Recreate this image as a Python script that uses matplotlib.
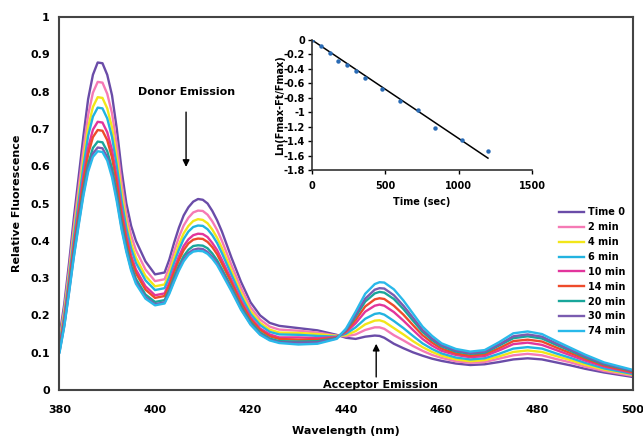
import numpy as np
import matplotlib
matplotlib.use("Agg")
import matplotlib.pyplot as plt

# --- data ---
wavelength = [380, 381, 382, 383, 384, 385, 386, 387, 388, 389, 390, 391, 392, 393, 394, 395, 396, 398, 400,
              402, 403, 404, 405, 406, 407, 408, 409, 410, 411, 412, 413, 414, 416, 418, 420, 422, 424, 426,
              430, 434, 438, 440, 442, 444, 446, 447, 448, 450, 452, 454, 456, 458, 460,
              463, 466, 469, 472, 475, 478, 481, 484, 487, 490, 494, 500]

t0 = [0.145, 0.230, 0.340, 0.460, 0.570, 0.680, 0.780, 0.845, 0.878, 0.876, 0.845, 0.790, 0.700, 0.590, 0.500, 0.440, 0.400, 0.345, 0.310,
      0.315, 0.350, 0.395, 0.435, 0.468, 0.490, 0.505, 0.512, 0.510, 0.500, 0.480, 0.455, 0.425, 0.355, 0.290, 0.235, 0.200, 0.180, 0.172,
      0.166, 0.160, 0.148, 0.140, 0.137, 0.143, 0.146, 0.145, 0.140, 0.124, 0.112, 0.101, 0.092, 0.084, 0.078,
      0.071, 0.067, 0.069, 0.075, 0.082, 0.085, 0.082, 0.074, 0.066, 0.057, 0.047, 0.035]
m2 = [0.135, 0.217, 0.322, 0.437, 0.541, 0.645, 0.737, 0.797, 0.826, 0.824, 0.794, 0.742, 0.657, 0.555, 0.471, 0.414, 0.375, 0.323, 0.292,
      0.297, 0.330, 0.372, 0.410, 0.441, 0.462, 0.476, 0.481, 0.480, 0.470, 0.452, 0.429, 0.400, 0.335, 0.274, 0.222, 0.189, 0.170, 0.162,
      0.159, 0.154, 0.146, 0.144, 0.149, 0.161, 0.168, 0.168, 0.164, 0.147, 0.133, 0.118, 0.105, 0.094, 0.086,
      0.077, 0.073, 0.075, 0.084, 0.093, 0.097, 0.093, 0.083, 0.074, 0.063, 0.051, 0.038]
m4 = [0.127, 0.207, 0.309, 0.419, 0.519, 0.618, 0.704, 0.759, 0.785, 0.783, 0.755, 0.704, 0.624, 0.528, 0.449, 0.393, 0.355, 0.306, 0.278,
      0.283, 0.314, 0.354, 0.390, 0.420, 0.440, 0.453, 0.458, 0.456, 0.447, 0.430, 0.408, 0.381, 0.320, 0.261, 0.212, 0.180, 0.162, 0.154,
      0.153, 0.150, 0.145, 0.147, 0.158, 0.176, 0.186, 0.187, 0.183, 0.166, 0.149, 0.131, 0.115, 0.102, 0.092,
      0.082, 0.077, 0.080, 0.090, 0.102, 0.106, 0.102, 0.091, 0.080, 0.068, 0.055, 0.041]
m6 = [0.122, 0.199, 0.299, 0.406, 0.504, 0.598, 0.681, 0.733, 0.757, 0.755, 0.728, 0.678, 0.601, 0.508, 0.434, 0.379, 0.341, 0.294, 0.268,
      0.273, 0.303, 0.341, 0.376, 0.405, 0.425, 0.437, 0.441, 0.440, 0.431, 0.415, 0.394, 0.367, 0.309, 0.252, 0.204, 0.174, 0.156, 0.149,
      0.148, 0.145, 0.143, 0.151, 0.168, 0.191, 0.204, 0.206, 0.202, 0.185, 0.166, 0.145, 0.125, 0.110, 0.098,
      0.087, 0.082, 0.085, 0.097, 0.111, 0.115, 0.111, 0.098, 0.086, 0.073, 0.058, 0.043]
m10 = [0.115, 0.190, 0.286, 0.390, 0.483, 0.573, 0.649, 0.698, 0.719, 0.717, 0.691, 0.643, 0.569, 0.483, 0.413, 0.360, 0.323, 0.278, 0.254,
       0.259, 0.288, 0.325, 0.358, 0.386, 0.404, 0.415, 0.419, 0.418, 0.410, 0.394, 0.375, 0.349, 0.295, 0.240, 0.195, 0.165, 0.149, 0.141,
       0.141, 0.139, 0.142, 0.155, 0.179, 0.210, 0.226, 0.229, 0.226, 0.209, 0.186, 0.161, 0.137, 0.119, 0.105,
       0.094, 0.088, 0.091, 0.106, 0.123, 0.127, 0.121, 0.107, 0.093, 0.079, 0.063, 0.046]
m14 = [0.111, 0.184, 0.279, 0.380, 0.471, 0.558, 0.632, 0.678, 0.697, 0.695, 0.670, 0.623, 0.552, 0.468, 0.401, 0.349, 0.313, 0.269, 0.247,
       0.252, 0.280, 0.315, 0.348, 0.375, 0.393, 0.403, 0.406, 0.405, 0.397, 0.383, 0.364, 0.339, 0.287, 0.233, 0.189, 0.161, 0.144, 0.137,
       0.135, 0.135, 0.140, 0.158, 0.188, 0.224, 0.243, 0.246, 0.244, 0.226, 0.202, 0.174, 0.147, 0.127, 0.111,
       0.098, 0.092, 0.096, 0.112, 0.131, 0.135, 0.130, 0.114, 0.099, 0.084, 0.066, 0.048]
m20 = [0.105, 0.177, 0.269, 0.367, 0.454, 0.538, 0.606, 0.649, 0.666, 0.664, 0.640, 0.594, 0.526, 0.448, 0.384, 0.333, 0.298, 0.256, 0.236,
       0.241, 0.268, 0.302, 0.333, 0.359, 0.376, 0.386, 0.388, 0.387, 0.380, 0.366, 0.348, 0.324, 0.275, 0.223, 0.182, 0.154, 0.138, 0.131,
       0.130, 0.131, 0.139, 0.161, 0.197, 0.237, 0.259, 0.263, 0.261, 0.244, 0.217, 0.186, 0.156, 0.134, 0.117,
       0.103, 0.097, 0.100, 0.119, 0.139, 0.144, 0.138, 0.121, 0.105, 0.088, 0.069, 0.051]
m30 = [0.102, 0.172, 0.263, 0.359, 0.445, 0.526, 0.593, 0.634, 0.650, 0.648, 0.624, 0.579, 0.513, 0.436, 0.375, 0.325, 0.290, 0.249, 0.230,
       0.235, 0.262, 0.294, 0.325, 0.350, 0.367, 0.376, 0.379, 0.378, 0.370, 0.357, 0.340, 0.317, 0.269, 0.218, 0.177, 0.150, 0.135, 0.128,
       0.127, 0.128, 0.138, 0.162, 0.202, 0.245, 0.269, 0.273, 0.272, 0.254, 0.226, 0.194, 0.161, 0.138, 0.120,
       0.106, 0.099, 0.103, 0.122, 0.144, 0.149, 0.143, 0.125, 0.108, 0.091, 0.071, 0.052]
m74 = [0.100, 0.170, 0.260, 0.355, 0.440, 0.520, 0.585, 0.625, 0.640, 0.638, 0.615, 0.570, 0.505, 0.430, 0.370, 0.320, 0.285, 0.245, 0.227,
       0.232, 0.258, 0.290, 0.320, 0.345, 0.362, 0.371, 0.373, 0.372, 0.365, 0.352, 0.335, 0.312, 0.265, 0.215, 0.175, 0.148, 0.133, 0.126,
       0.122, 0.124, 0.137, 0.165, 0.210, 0.258, 0.284, 0.289, 0.288, 0.270, 0.240, 0.205, 0.170, 0.145, 0.125,
       0.110, 0.103, 0.107, 0.128, 0.152, 0.157, 0.150, 0.131, 0.113, 0.095, 0.074, 0.054]

series = [t0, m2, m4, m6, m10, m14, m20, m30, m74]
labels = ["Time 0", "2 min", "4 min", "6 min", "10 min", "14 min", "20 min", "30 min", "74 min"]
colors = ["#6a4ca8", "#f57ab5", "#f2e619", "#22b3e0", "#e2359c", "#ee4b2b", "#19a69b", "#7a5cb0", "#29b9ea"]

# inset kinetics
time_sec = [0, 60, 120, 180, 240, 300, 360, 480, 600, 720, 840, 1020, 1200]
ln_ratio = [0.0, -0.078, -0.185, -0.286, -0.341, -0.429, -0.531, -0.678, -0.840, -0.974, -1.218, -1.389, -1.541]

plt.rcParams['font.family'] = ['DejaVu Sans']
plt.rcParams['font.weight'] = 'bold'

fig = plt.figure(figsize=(6.43, 4.40), dpi=100)
ax = fig.add_axes([0.0925, 0.1136, 0.8915, 0.8478])

for y, lab, c in zip(series, labels, colors):
    ax.plot(wavelength, y, color=c, lw=1.7, label=lab, solid_joinstyle='round')

ax.set_xlim(380, 500)
ax.set_ylim(0, 1)
ax.set_xticks(np.arange(380, 501, 20))
ax.set_yticks(np.arange(0, 1.01, 0.1))
ax.set_yticklabels(["0", "0.1", "0.2", "0.3", "0.4", "0.5", "0.6", "0.7", "0.8", "0.9", "1"])
ax.tick_params(axis='y', length=0, labelsize=8, pad=7)
ax.tick_params(axis='x', length=0, labelsize=8, pad=11)
for s in ax.spines.values():
    s.set_color("#444444")
    s.set_linewidth(1.5)
ax.set_xlabel("Wavelength (nm)", fontsize=8, fontweight='bold', labelpad=8)
ax.set_ylabel("Relative Fluorescence", fontsize=8, fontweight='bold', labelpad=6)

leg = ax.legend(loc='upper left', bbox_to_anchor=(0.865, 0.50), frameon=False, fontsize=7,
                handlelength=2.6, handletextpad=0.35, labelspacing=0.5, borderaxespad=0)

# annotations
ax.text(406.5, 0.80, "Donor Emission", ha='center', va='center', fontsize=8, fontweight='bold')
ax.annotate("", xy=(406.5, 0.598), xytext=(406.5, 0.745),
            arrowprops=dict(arrowstyle='-|>', color='black', lw=1.0, mutation_scale=10,
                            shrinkA=0, shrinkB=0))
ax.text(447.1, 0.014, "Acceptor Emission", ha='center', va='center', fontsize=8, fontweight='bold')
ax.annotate("", xy=(446.3, 0.124), xytext=(446.3, 0.035),
            arrowprops=dict(arrowstyle='-|>', color='black', lw=1.0, mutation_scale=10,
                            shrinkA=0, shrinkB=0))

# inset
ins = fig.add_axes([0.4852, 0.6136, 0.3421, 0.2955])
t = np.array(time_sec, dtype=float)
v = np.array(ln_ratio)
slope = np.sum(t * v) / np.sum(t * t)
ins.plot([0, 1200], [0, slope * 1200], color='black', lw=1.1)
ins.plot(time_sec, ln_ratio, 'o', color='#2a6bb5', ms=3.2, mec='none')
ins.set_xlim(0, 1500)
ins.set_ylim(-1.8, 0)
ins.set_xticks([0, 500, 1000, 1500])
ins.set_yticks(np.arange(-1.8, 0.01, 0.2))
ins.set_yticklabels(["-1.8", "-1.6", "-1.4", "-1.2", "-1", "-0.8", "-0.6", "-0.4", "-0.2", "0"])
ins.tick_params(labelsize=7, length=3, width=1, pad=2)
ins.tick_params(axis='x', pad=5)
ins.spines['top'].set_visible(False)
ins.spines['right'].set_visible(False)
for s in ['left', 'bottom']:
    ins.spines[s].set_color("#333333")
    ins.spines[s].set_linewidth(1.2)
ins.patch.set_alpha(0)
ins.set_xlabel("Time (sec)", fontsize=7, fontweight='bold', labelpad=4)
ins.set_ylabel("Ln(Fmax-Ft/Fmax)", fontsize=7, fontweight='bold', labelpad=-1)

fig.savefig("out.png", dpi=100)
